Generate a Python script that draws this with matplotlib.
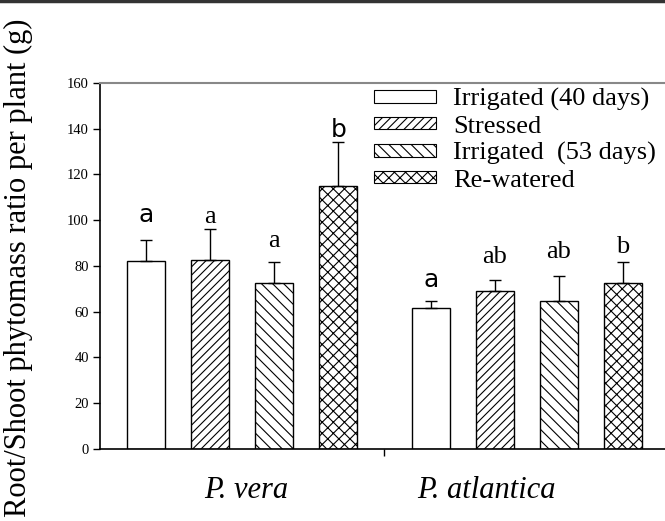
import numpy as np
import matplotlib
matplotlib.use('Agg')
import matplotlib.pyplot as plt
from matplotlib.patches import Patch
from matplotlib.lines import Line2D

# data
species = ['P. vera', 'P. atlantica']
treatments = ['Irrigated (40 days)', 'Stressed', 'Irrigated  (53 days)', 'Re-watered']
vera_mean = [82.0, 82.8, 72.4, 115.1]
vera_err = [9.2, 13.5, 9.2, 19.0]
atl_mean = [61.5, 68.9, 64.6, 72.7]
atl_err = [3.1, 4.8, 10.9, 9.2]
vera_letters = ['a', 'a', 'a', 'b']
atl_letters = ['a', 'ab', 'ab', 'b']
# baseline height of each letter
vera_letter_y = [99.4, 99.0, 88.4, 136.4]
atl_letter_y = [71.0, 81.4, 83.4, 85.5]
# which letters were typed in a sans font in the original
vera_sans = [True, False, False, True]
atl_sans = [True, False, False, False]

hatches = ['', '////', '\\\\\\', 'xxx']

plt.rcParams['hatch.linewidth'] = 0.8
plt.rcParams['font.family'] = 'Liberation Serif'

fig = plt.figure(figsize=(6.65, 5.21), dpi=100)
ax = fig.add_axes([0.1504, 0.1382, 0.8496, 0.7025])

offsets = np.array([-1.5, -0.5, 0.5, 1.5]) * 0.225
width = 0.134

means = [vera_mean, atl_mean]
errs = [vera_err, atl_err]
letters = [vera_letters, atl_letters]
letter_y = [vera_letter_y, atl_letter_y]
sans = [vera_sans, atl_sans]

for g in range(2):
    x = g + offsets
    for i in range(4):
        ax.bar(x[i], means[g][i], width, color='white', edgecolor='black',
               hatch=hatches[i], linewidth=1.0, zorder=2)
        ax.errorbar(x[i], means[g][i], yerr=[[0], [errs[g][i]]], fmt='none',
                    ecolor='black', elinewidth=1.0, capsize=4.5, capthick=1.0, zorder=3)
        if sans[g][i]:
            ax.text(x[i], letter_y[g][i], letters[g][i], ha='center', va='baseline',
                    fontsize=18, family='DejaVu Sans')
        else:
            ax.text(x[i], letter_y[g][i], letters[g][i], ha='center', va='baseline',
                    fontsize=19)

ax.set_xlim(-0.5, 1.4866)
ax.set_ylim(0, 160)
ax.set_yticks(np.arange(0, 161, 20))
ax.tick_params(axis='y', direction='out', length=5, width=1, labelsize=10.5, pad=3)
ax.set_xticks([0.5])
ax.set_xticklabels([])
ax.tick_params(axis='x', direction='out', length=5, width=1)

ax.spines['right'].set_visible(False)
ax.spines['top'].set_color('#888888')
ax.spines['top'].set_linewidth(1.5)
ax.spines['left'].set_linewidth(1.2)
ax.spines['bottom'].set_linewidth(1.2)

ax.text(0.013, -18, species[0], ha='center', va='center', fontsize=22, style='italic')
ax.text(0.86, -18, species[1], ha='center', va='center', fontsize=22, style='italic')

fig.text(0.028, 1 - 268 / 521, 'Root/Shoot phytomass ratio per plant (g)',
         rotation=90, ha='center', va='center', fontsize=22)

handles = [Patch(facecolor='white', edgecolor='black', hatch=h, linewidth=0.8) for h in hatches]
ax.legend(handles, treatments, loc='upper right', bbox_to_anchor=(1.003, 1.015),
          frameon=False, fontsize=19, handlelength=2.35, handleheight=0.35,
          labelspacing=0.17, handletextpad=0.64, borderaxespad=0.0)

fig.add_artist(Line2D([0, 1], [0.998, 0.998], color='#333333', linewidth=2.5))

fig.savefig('out.png', dpi=100)
